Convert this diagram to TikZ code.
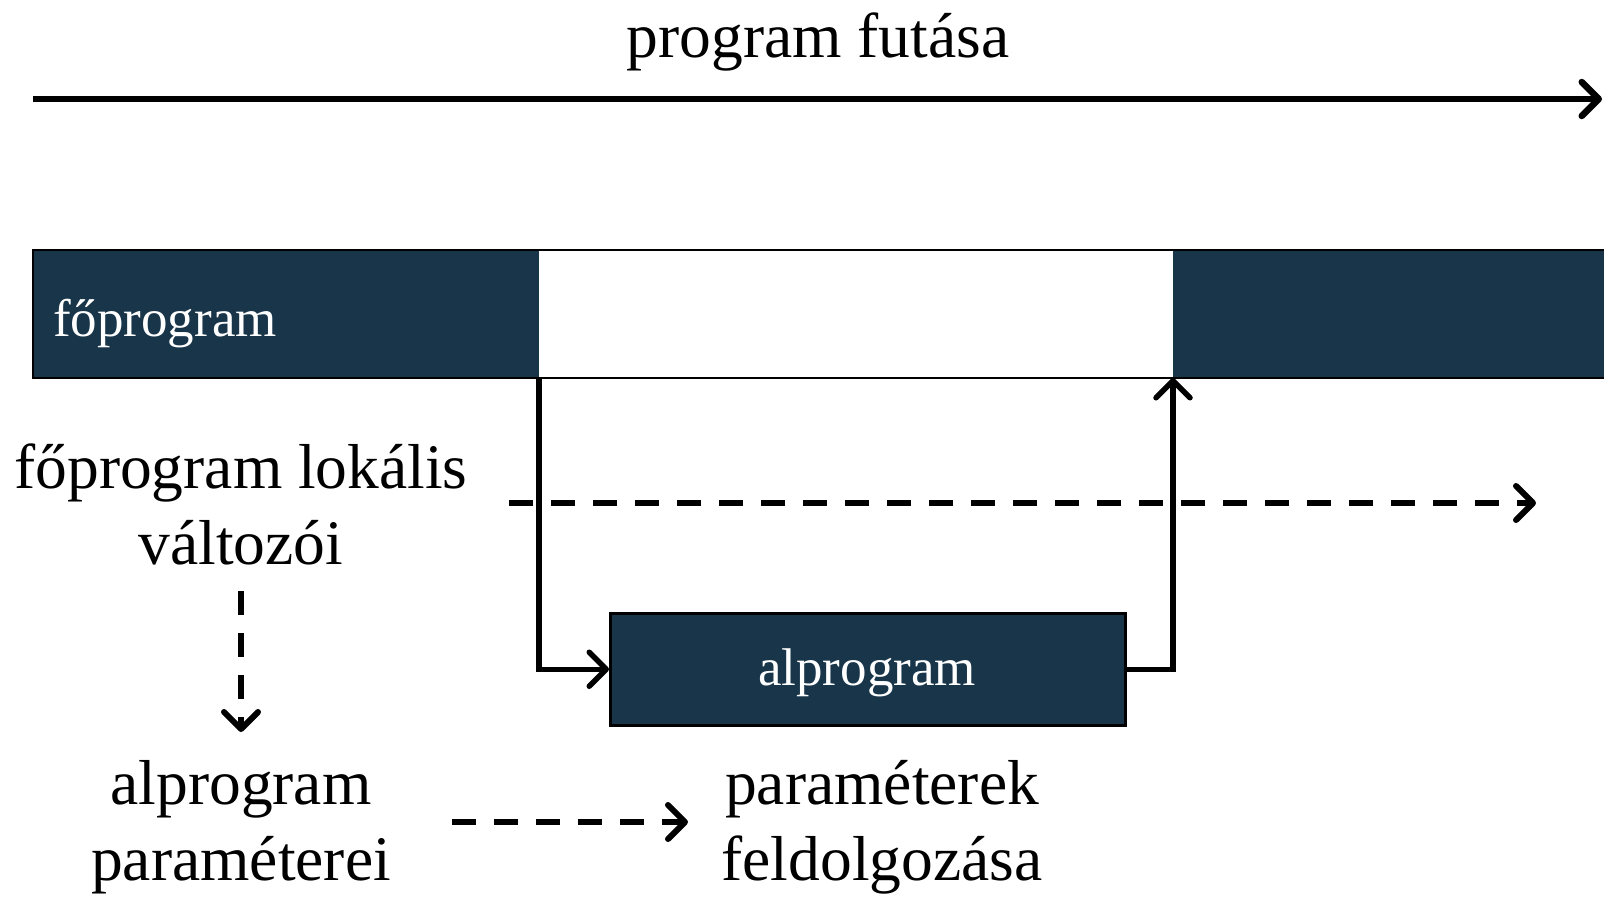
\documentclass[tikz,border=0pt]{standalone}
\usepackage{fontspec}
\setmainfont{Liberation Serif}
\usetikzlibrary{arrows.meta}
\definecolor{navy}{RGB}{25,53,74}
\begin{document}
\begin{tikzpicture}[x=1pt,y=-1pt,
  bigtxt/.style={font=\fontsize{63.5}{76}\selectfont, align=center, inner sep=0, anchor=base},
  boxtxt/.style={font=\fontsize{53}{64}\selectfont, text=white, inner sep=0, anchor=base},
  segfill/.style={fill=#1, inner sep=0, outer sep=0, anchor=north west, minimum height=128},
  barb/.style={-{Straight Barb[length=17,width=34,round]}},
  mainarrow/.style={barb, line width=6.5},
  conn/.style={barb, line width=5.5, line join=miter},
  dasharrow/.style={barb, line width=6, dash pattern=on 24 off 18}
]
\useasboundingbox (0,0) rectangle (1604,897);

% title and time arrow
\node[bigtxt] (title) at (818,57) {program futása};
\coordinate (t0) at (33,99);
\coordinate (t1) at (1602,99);
\draw[mainarrow] (t0) -- (t1);

% main program bar
\node[segfill=navy, minimum width=506] (seg1) at (33,250) {};
\node[segfill=white, minimum width=634] (seg2) at (539,250) {};
\node[segfill=navy, minimum width=431] (seg3) at (1173,250) {};
\node[draw=black, line width=2.5, inner sep=0, outer sep=0, anchor=north west,
      minimum width=1575, minimum height=128] (bar) at (33,250) {};
\node[boxtxt, anchor=base west] (fo) at (53,336) {főprogram};

% subprogram
\node[draw=black, line width=2.5, fill=navy, inner sep=0, anchor=north west,
      minimum width=515, minimum height=112] (sub) at (609,612) {};
\node[boxtxt] (sublbl) at (867,685) {alprogram};

\draw[conn] (seg2.south west) |- (sub.west);
\draw[conn] (sub.east) -| (seg3.south west);

% texts (anchor base = baseline of last line)
\node[bigtxt] (vars) at (241,564) {főprogram lokális\\változói};
\node[bigtxt] (params) at (241,880) {alprogram\\paraméterei};
\node[bigtxt] (proc) at (882,880) {paraméterek\\feldolgozása};

% dashed arrows
\coordinate (h0) at (509,503);
\coordinate (h1) at (1536,503);
\draw[dasharrow] (h0) -- (h1);
\coordinate (v0) at (241,591);
\coordinate (v1) at (241,732);
\draw[dasharrow] (v0) -- (v1);
\coordinate (b0) at (452,822);
\coordinate (b1) at (688,822);
\draw[dasharrow] (b0) -- (b1);
\end{tikzpicture}
\end{document}
